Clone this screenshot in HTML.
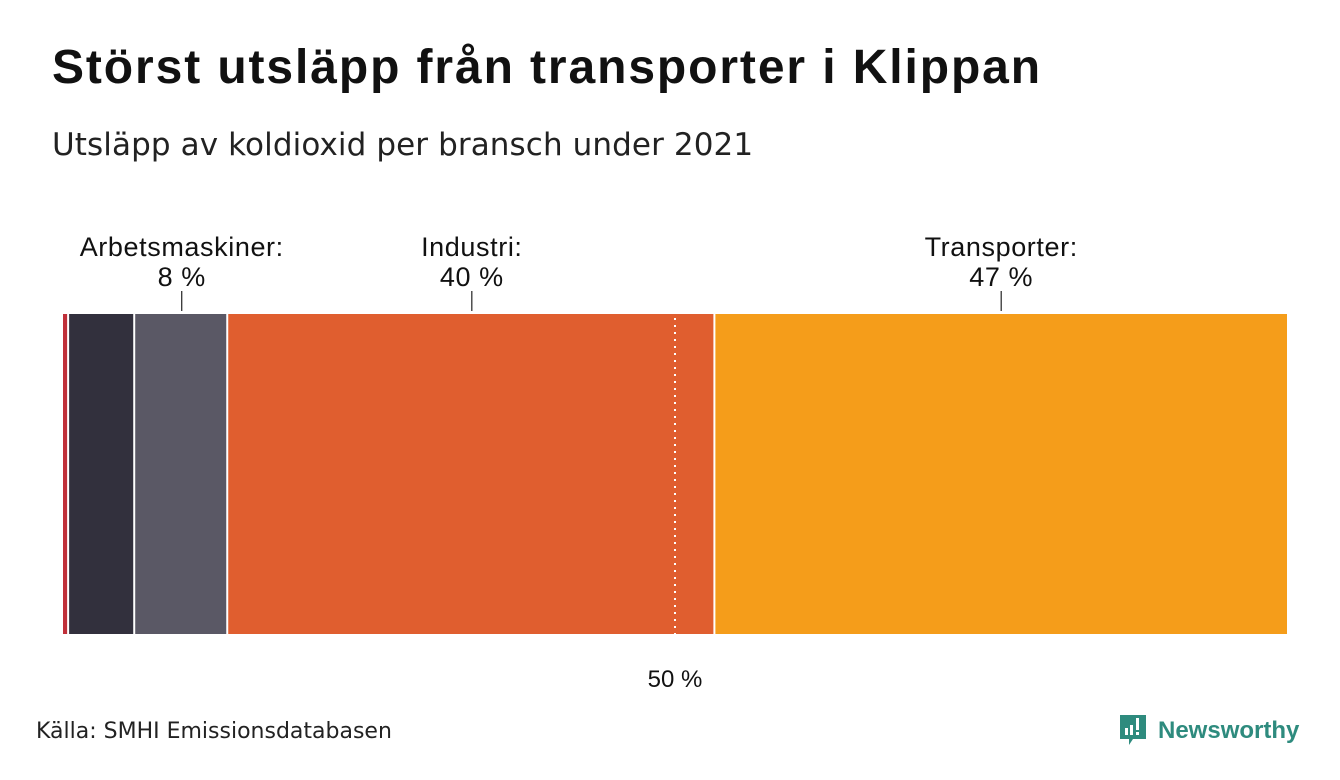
<!DOCTYPE html>
<html><head><meta charset="utf-8"><style>
body{margin:0;background:#fff;width:1340px;height:780px;overflow:hidden;font-family:"Liberation Sans",sans-serif;}
#title{position:absolute;left:52px;top:40px;font-size:48px;font-weight:bold;color:#111;letter-spacing:1.9px;white-space:nowrap}
#sub{position:absolute;left:52px;top:127px;font-size:31px;color:#222;font-family:"DejaVu Sans","Liberation Sans",sans-serif;letter-spacing:0.1px;white-space:nowrap}
#src{position:absolute;left:36px;top:719px;font-size:22px;color:#222;font-family:"DejaVu Sans","Liberation Sans",sans-serif;white-space:nowrap}
#logo{position:absolute;left:1118px;top:713px;}
</style></head><body>
<div id="title">Störst utsläpp från transporter i Klippan</div>
<div id="sub">Utsläpp av koldioxid per bransch under 2021</div>
<svg id="chart" width="1340" height="780" style="position:absolute;left:0;top:0"></svg>
<div id="src">Källa: SMHI Emissionsdatabasen</div>
<svg id="logo" width="190" height="40">
<path d="M2 2h26v24H15l-4 6v-6H2z" fill="#2e8b7e"/>
<rect x="7" y="15" width="3" height="7" fill="#fff"/><rect x="12" y="12" width="3" height="10" fill="#fff"/><rect x="18" y="5" width="3" height="12" fill="#fff"/><rect x="18" y="19" width="3" height="3" fill="#fff"/>
<text x="40" y="25" font-family="Liberation Sans" font-weight="bold" font-size="24" fill="#2e8b7e">Newsworthy</text>
</svg>
<script>
const categories=["Övrigt","Energi","Arbetsmaskiner","Industri","Transporter"];
const values=[0.5,5.4,7.6,39.8,46.7];
const colors=["#c0303a","#32303d","#5a5865","#e05e2f","#f59d1a"];
const labels=[null,null,"Arbetsmaskiner:|8 %","Industri:|40 %","Transporter:|47 %"];
const refValue=50;
const X0=63,W=1224,Y0=314,H=320;
const svg=document.getElementById('chart');
const NS="http://www.w3.org/2000/svg";
const total=values.reduce((a,b)=>a+b,0);
const x=v=>X0+v/total*W;
function el(t,a){const e=document.createElementNS(NS,t);for(const k in a)e.setAttribute(k,a[k]);svg.appendChild(e);return e;}
let cum=0;
values.forEach((v,i)=>{
 const x1=x(cum),x2=x(cum+v);
 const gap=i<values.length-1?2:0;
 const r=el('rect',{x:x1,y:Y0,width:Math.max(0,x2-x1-gap),height:H,fill:colors[i]});
 
 
 if(labels[i]){
  const cx=(x1+x2)/2;
  const tk=el('line',{x1:cx,x2:cx,y1:291,y2:311,stroke:'#222','stroke-width':1.2});
  
  
  const [a,b]=labels[i].split('|');
  [a,b].forEach((s,j)=>{
   const t=el('text',{x:cx,y:256+j*30,'text-anchor':'middle','font-size':27,'letter-spacing':0.6,fill:'#111','font-family':'Liberation Sans'});
   t.textContent=s;
   
   
  });
 }
 cum+=v;
});
const rx=x(refValue);
const rl=el('line',{x1:rx,x2:rx,y1:Y0+4,y2:Y0+H,stroke:'#fff','stroke-width':2,'stroke-dasharray':'2 5'});


const rt=el('text',{x:rx,y:687,'text-anchor':'middle','font-size':24,fill:'#111','font-family':'Liberation Sans'});
rt.textContent=refValue+' %';


</script>
</body></html>
